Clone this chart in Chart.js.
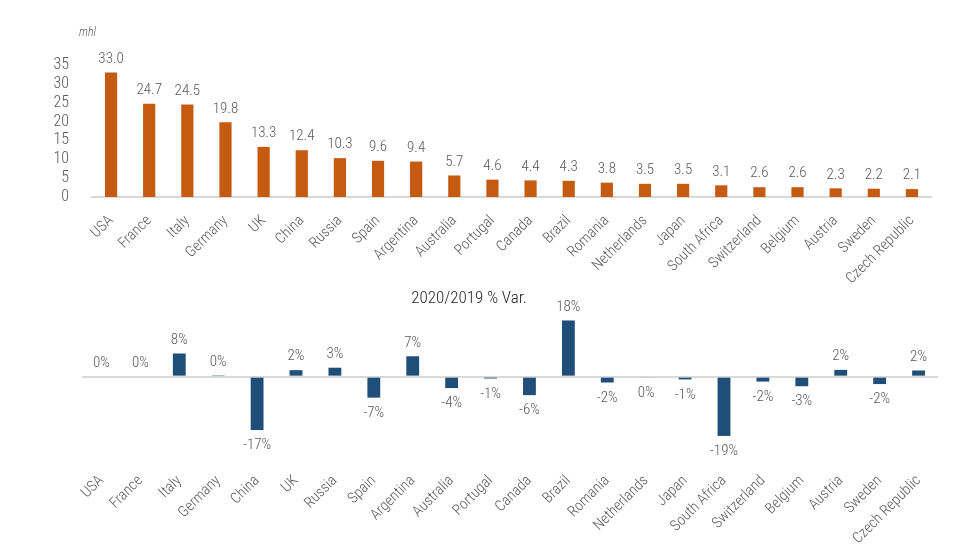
<!DOCTYPE html>
<html>
<head>
<meta charset="utf-8">
<script src="https://cdn.jsdelivr.net/npm/chart.js@4.4.1/dist/chart.umd.min.js"></script>
<style>
  html, body { margin: 0; padding: 0; background: #fff; }
  #wrap { position: relative; width: 980px; height: 560px; }
  #topChart { position: absolute; left: 0; top: 0; }
  #varChart { position: absolute; left: 0; top: 280px; }
</style>
</head>
<body>
<div id="wrap">
  <canvas id="topChart" width="980" height="300"></canvas>
  <canvas id="varChart" width="980" height="280"></canvas>
</div>
<script>
// production, mhl
const prodLabels = ['USA', 'France', 'Italy', 'Germany', 'UK', 'China', 'Russia', 'Spain', 'Argentina',
  'Australia', 'Portugal', 'Canada', 'Brazil', 'Romania', 'Netherlands', 'Japan', 'South Africa',
  'Switzerland', 'Belgium', 'Austria', 'Sweden', 'Czech Republic'];
const prodValues = [33.0, 24.7, 24.5, 19.8, 13.3, 12.4, 10.3, 9.6, 9.4, 5.7, 4.6, 4.4, 4.3, 3.8, 3.5, 3.5,
  3.1, 2.6, 2.6, 2.3, 2.2, 2.1];
const prodTicks = [0, 5, 10, 15, 20, 25, 30, 35];

// 2020/2019 % variation
const varLabels = ['USA', 'France', 'Italy', 'Germany', 'China', 'UK', 'Russia', 'Spain', 'Argentina',
  'Australia', 'Portugal', 'Canada', 'Brazil', 'Romania', 'Netherlands', 'Japan', 'South Africa',
  'Switzerland', 'Belgium', 'Austria', 'Sweden', 'Czech Republic'];
const varValues = [0, 0, 7.5, 0.2, -17.3, 2.1, 2.9, -6.8, 6.6, -3.7, -0.6, -6.0, 18.2, -1.9, -0.3, -0.9,
  -19.2, -1.6, -3.1, 2.2, -2.4, 2.0];

const fontFamily = '"Roboto Condensed", "Liberation Sans Narrow", "Roboto", sans-serif';
const textGrey = '#595959';
Chart.defaults.font.family = fontFamily;
Chart.defaults.font.weight = 300;
Chart.defaults.color = textGrey;

// labels on top of (or under) each bar
const barValueLabels = {
  id: 'barValueLabels',
  afterDatasetsDraw(chart, args, opts) {
    const ctx = chart.ctx;
    const meta = chart.getDatasetMeta(0);
    const data = chart.data.datasets[0].data;
    ctx.save();
    ctx.font = '300 15px ' + fontFamily;
    ctx.fillStyle = textGrey;
    ctx.textAlign = 'center';
    meta.data.forEach((bar, i) => {
      const v = data[i];
      const txt = opts.format(v);
      if (v >= 0) {
        ctx.textBaseline = 'bottom';
        ctx.fillText(txt, bar.x, bar.y - opts.gapUp);
      } else {
        ctx.textBaseline = 'top';
        ctx.fillText(txt, bar.x, bar.y + opts.gapDown);
      }
    });
    ctx.restore();
  }
};

// free text: unit caption / panel title
const freeText = {
  id: 'freeText',
  afterDraw(chart, args, opts) {
    const ctx = chart.ctx;
    ctx.save();
    ctx.font = opts.font;
    ctx.fillStyle = opts.color;
    ctx.textAlign = opts.align;
    ctx.textBaseline = 'middle';
    ctx.fillText(opts.text, opts.x, opts.y);
    ctx.restore();
  }
};

const topCtx = document.getElementById('topChart').getContext('2d');
window.topChart = new Chart(topCtx, {
  type: 'bar',
  data: {
    labels: prodLabels,
    datasets: [{
      data: prodValues,
      backgroundColor: '#C55A11',
      categoryPercentage: 1,
      barPercentage: 0.32
    }]
  },
  options: {
    responsive: false,
    animation: false,
    layout: { padding: { left: 40, right: 49, top: 65, bottom: 0 } },
    plugins: {
      legend: { display: false },
      tooltip: { enabled: false },
      barValueLabels: { gapUp: 6, gapDown: 7, format: v => v.toFixed(1) },
      freeText: { text: 'mhl', x: 79, y: 33, align: 'left', color: textGrey, font: 'italic 300 12px ' + fontFamily }
    },
    scales: {
      x: {
        grid: { display: false },
        border: { color: '#D9D9D9', width: 2 },
        ticks: { autoSkip: false, maxRotation: 45, minRotation: 45, padding: 7, font: { size: 15 } },
        afterFit: s => { s.height = 103; }
      },
      y: {
        min: 0,
        max: 35,
        afterBuildTicks: s => { s.ticks = prodTicks.map(v => ({ value: v })); },
        grid: { display: false },
        border: { display: false },
        ticks: { autoSkip: false, padding: 15, font: { size: 16 } },
        afterFit: s => { s.width = 52; }
      }
    }
  },
  plugins: [barValueLabels, freeText]
});

const varCtx = document.getElementById('varChart').getContext('2d');
window.varChart = new Chart(varCtx, {
  type: 'bar',
  data: {
    labels: varLabels,
    datasets: [{
      data: varValues,
      backgroundColor: '#1F4E79',
      categoryPercentage: 1,
      barPercentage: 0.33
    }]
  },
  options: {
    responsive: false,
    animation: false,
    layout: { padding: { left: 82, right: 42, top: 38, bottom: 0 } },
    plugins: {
      legend: { display: false },
      tooltip: { enabled: false },
      freeText: { text: '2020/2019 % Var.', x: 469, y: 19, align: 'center', color: '#262626', font: '300 17px ' + fontFamily },
      barValueLabels: { gapUp: 6, gapDown: 8, format: v => Math.round(v) + '%' }
    },
    scales: {
      x: {
        grid: { display: false },
        border: { display: false },
        ticks: { autoSkip: false, maxRotation: 45, minRotation: 45, padding: 4, font: { size: 15 } },
        afterFit: s => { s.height = 100; }
      },
      y: {
        min: -27,
        max: 19,
        grid: {
          color: c => (c.tick.value === 0 ? '#D9D9D9' : 'rgba(0,0,0,0)'),
          lineWidth: 2,
          drawTicks: false
        },
        border: { display: false },
        ticks: { display: false, stepSize: 1 },
        afterFit: s => { s.width = 0; }
      }
    }
  },
  plugins: [barValueLabels, freeText]
});
</script>
</body>
</html>
